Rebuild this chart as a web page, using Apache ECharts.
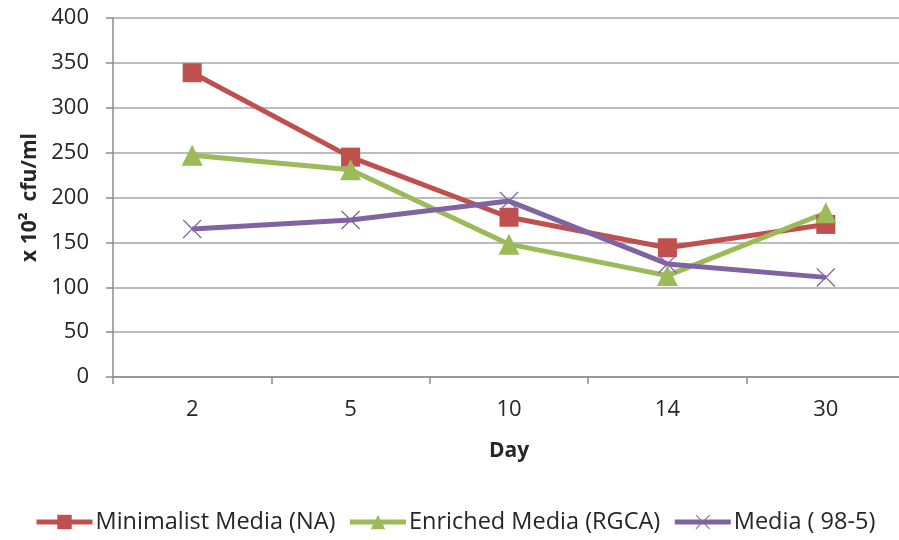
<!DOCTYPE html>
<html><head><meta charset="utf-8">
<script src="https://cdn.jsdelivr.net/npm/echarts@6/dist/echarts.min.js"></script>
<style>html,body{margin:0;padding:0;background:#fff;overflow:hidden}#c{width:905px;height:540px}</style>
</head><body><div id="c"></div>
<script>
var days = ['2', '5', '10', '14', '30'];
var minimalistNA = [339, 245, 178, 144, 170];
var enrichedRGCA = [247, 231, 148, 113, 183];
var media985 = [165, 175, 196, 126, 111];
var yTicks = [0, 50, 100, 150, 200, 250, 300, 350, 400];

var FONT = "'Open Sans', sans-serif";
var crossPath = 'path://M0,1 L1,0 L10,9 L19,0 L20,1 L11,10 L20,19 L19,20 L10,11 L1,20 L0,19 L9,10 Z';

var chart = echarts.init(document.getElementById('c'));
chart.setOption({
  animation: false,
  backgroundColor: '#fff',
  textStyle: { fontFamily: FONT },
  grid: { left: 113, top: 18, bottom: 163, right: 0, containLabel: false },
  legend: {
    bottom: 1, left: 29, itemWidth: 56, itemHeight: 18, itemGap: 12,
    lineStyle: { width: 5 },
    textStyle: { fontFamily: FONT, fontSize: 23.5, color: '#262626', padding: [0,0,0,-2] },
    data: ['Minimalist Media (NA)', 'Enriched Media (RGCA)', 'Media ( 98-5)']
  },
  xAxis: {
    type: 'category', data: days, boundaryGap: true,
    name: 'Day', nameLocation: 'middle', nameGap: 64,
    nameTextStyle: { fontFamily: FONT, fontSize: 21, fontWeight: 'bold', color: '#262626' },
    axisLine: { lineStyle: { color: '#8c8c8c', width: 1.5 } },
    axisTick: { show: true, alignWithLabel: false, length: 7, lineStyle: { color: '#8c8c8c', width: 1.5 } },
    axisLabel: { fontFamily: FONT, fontSize: 22, color: '#262626', margin: 22 }
  },
  yAxis: {
    type: 'value', min: yTicks[0], max: yTicks[yTicks.length-1], interval: yTicks[1]-yTicks[0],
    name: 'x 10\u00B2  cfu/ml', nameLocation: 'middle', nameGap: 72, nameRotate: 90,
    nameTextStyle: { fontFamily: FONT, fontSize: 21, fontWeight: 'bold', color: '#262626' },
    axisLine: { show: true, lineStyle: { color: '#8c8c8c', width: 1.5 } },
    axisTick: { show: true, length: 7, lineStyle: { color: '#8c8c8c', width: 1.5 } },
    axisLabel: { fontFamily: FONT, fontSize: 22, color: '#262626', margin: 24 },
    splitLine: { lineStyle: { color: '#a6a6a6', width: 1.5 } }
  },
  series: [
    { name: 'Minimalist Media (NA)', type: 'line', data: minimalistNA,
      symbol: 'rect', symbolSize: 19, color: '#C0504D',
      lineStyle: { width: 5, color: '#C0504D' }, itemStyle: { color: '#C0504D' } },
    { name: 'Enriched Media (RGCA)', type: 'line', data: enrichedRGCA,
      symbol: 'triangle', symbolSize: 21, color: '#9BBB59',
      lineStyle: { width: 5, color: '#9BBB59' }, itemStyle: { color: '#9BBB59' } },
    { name: 'Media ( 98-5)', type: 'line', data: media985,
      symbol: crossPath, symbolSize: 19, color: '#8064A2',
      lineStyle: { width: 5, color: '#8064A2' }, itemStyle: { color: '#8064A2' } }
  ]
});
</script></body></html>
